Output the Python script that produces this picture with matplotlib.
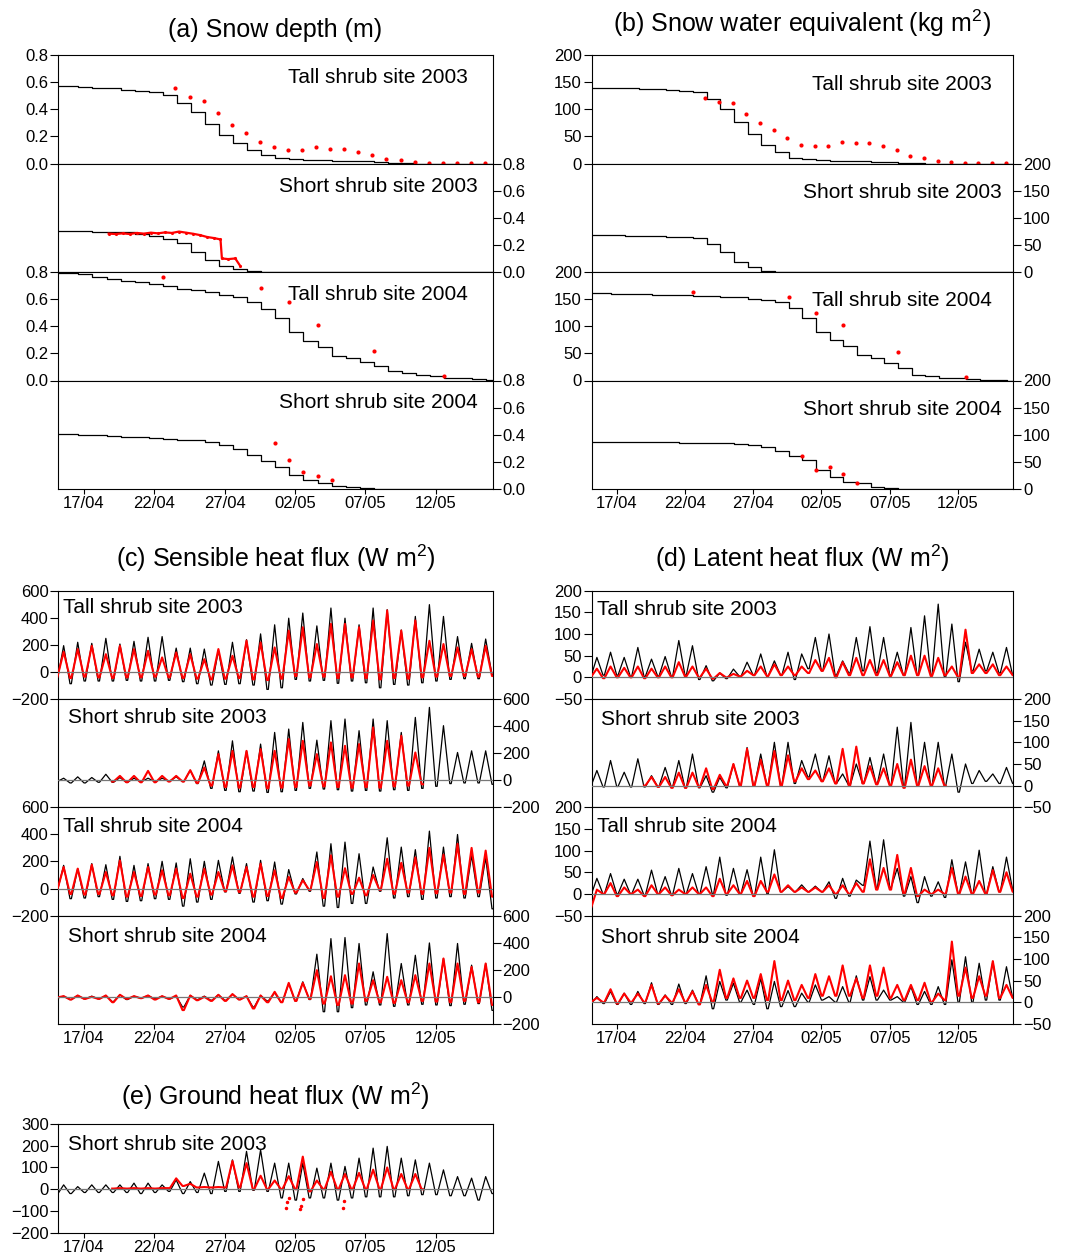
import numpy as np
import matplotlib.pyplot as plt

plt.rcParams['font.family'] = ['Liberation Sans', 'DejaVu Sans']
plt.rcParams['mathtext.fontset'] = 'custom'
plt.rcParams['mathtext.rm'] = 'Liberation Sans'
plt.rcParams['mathtext.it'] = 'Liberation Sans:italic'

# days since 15 April 00:00
DAYS = np.arange(31)
tick_days = [2, 7, 12, 17, 22, 27]
tick_labels = ['17/04', '22/04', '27/04', '02/05', '07/05', '12/05']

# ---------------- snow: model (value after the daily melt step) ----------------
depth_tall03_mod = [0.572, 0.565, 0.56, 0.553, 0.545, 0.537, 0.528, 0.505, 0.443, 0.377, 0.29, 0.209, 0.153, 0.098, 0.06,
                    0.044, 0.032, 0.028, 0.025, 0.022, 0.02, 0.015, 0.01, 0.006, 0.002, 0, 0, 0, 0, 0, 0]
depth_short03_mod = [0.30, 0.30, 0.298, 0.296, 0.292, 0.28, 0.265, 0.245, 0.215, 0.15, 0.09, 0.045, 0.022, 0.008, 0.002,
                     0, 0, 0, 0, 0, 0, 0, 0, 0, 0, 0, 0, 0, 0, 0, 0]
depth_tall04_mod = [0.795, 0.785, 0.765, 0.75, 0.735, 0.725, 0.71, 0.695, 0.677, 0.67, 0.65, 0.63, 0.615, 0.58, 0.53,
                    0.46, 0.355, 0.29, 0.25, 0.18, 0.165, 0.14, 0.11, 0.07, 0.055, 0.042, 0.03, 0.022, 0.015, 0.01, 0.005]
depth_short04_mod = [0.403, 0.40, 0.396, 0.39, 0.386, 0.382, 0.377, 0.372, 0.364, 0.358, 0.35, 0.325, 0.293, 0.25, 0.21,
                     0.16, 0.105, 0.07, 0.047, 0.025, 0.012, 0.006, 0.003, 0.001, 0, 0, 0, 0, 0, 0, 0]

swe_tall03_mod = [140, 139, 138.5, 137.5, 136.5, 135.5, 134, 131, 119, 100, 77, 54, 35, 22, 10.5,
                  7.4, 6.5, 5.5, 5, 4, 3, 2, 1, 0.5, 0, 0, 0, 0, 0, 0, 0]
swe_short03_mod = [68, 67.5, 67, 66.5, 66, 65, 64, 62, 52, 36, 18.5, 9, 2, 0.5, 0,
                   0, 0, 0, 0, 0, 0, 0, 0, 0, 0, 0, 0, 0, 0, 0, 0]
swe_tall04_mod = [160.5, 160, 159.5, 159, 158.5, 158, 157, 156.5, 155.5, 154.5, 153, 151, 148, 144, 134,
                  116, 90, 75, 64, 47, 41, 32, 23, 11, 7.5, 5.5, 4, 2.5, 1, 0.5, 0]
swe_short04_mod = [87.3, 87, 86.7, 86.3, 86, 85.8, 85.5, 85, 84.5, 84, 83.5, 82, 78, 70, 60,
                   53.5, 35, 23, 13.5, 10.5, 4.3, 1.2, 0.3, 0, 0, 0, 0, 0, 0, 0, 0]

# ---------------- snow: observations ----------------
obs_days_tall03 = np.arange(8.5, 31, 1.0)
depth_tall03_obs = [0.56, 0.49, 0.463, 0.369, 0.283, 0.222, 0.162, 0.118, 0.10, 0.10, 0.118, 0.108, 0.108, 0.086,
                    0.066, 0.032, 0.027, 0.01, 0.005, 0.004, 0.004, 0.004, 0.004]
swe_tall03_obs = [121, 113, 111, 92, 74, 61, 47, 35, 32, 33, 39, 37, 37.5, 32, 25, 13, 11, 4, 2, 1, 0.5, 1, 0.5]

obs_t_short03 = [3.75, 4.25, 4.75, 5.25, 5.75, 6.25, 6.75, 7.25, 7.75, 8.25, 8.75, 9.25, 9.75, 10.25, 10.75, 11.25,
                 11.7, 11.8, 12.25, 12.75, 13.1]
depth_short03_obs = [0.283, 0.28, 0.285, 0.28, 0.288, 0.283, 0.29, 0.285, 0.292, 0.288, 0.298, 0.29, 0.282, 0.272,
                     0.258, 0.25, 0.24, 0.10, 0.095, 0.10, 0.045]

obs_days_tall04 = [7.6, 14.6, 16.6, 18.6, 22.6, 27.6]
depth_tall04_obs = [0.763, 0.68, 0.58, 0.41, 0.22, 0.03]
swe_tall04_obs = [163, 153, 125, 101.5, 53, 6]

obs_days_short04 = [15.6, 16.6, 17.6, 18.6, 19.6]
depth_short04_obs = [0.342, 0.212, 0.128, 0.098, 0.064]
swe_short04_obs = [61.5, 34.5, 40, 28.3, 11.7]

# ---------------- fluxes: daily peak (midday) and night minimum ----------------
sens_tall03_mod_pk = [194, 219, 211, 248, 206, 226, 256, 261, 176, 176, 169, 159, 219, 238, 281, 348, 397, 435, 340, 472,
                      397, 348, 472, 460, 310, 410, 497, 410, 261, 211, 243]
sens_tall03_mod_tr = [-60, -87, -67, -67, -67, -62, -67, -67, -62, -72, -87, -97, -92, -87, -97, -129, -117, -55, -67,
                      -62, -84, -67, -80, -117, -92, -97, -80, -67, -55, -50, -50, -20]
sens_tall03_obs_pk = [149, 169, 193, 131, 193, 169, 156, 107, 144, 131, 94, 169, 119, 231, 218, 181, 305, 330, 206, 355,
                      355, 330, 380, 454, 305, 380, 230, 206, 181, 169, 193]
sens_tall03_obs_tr = [-40, -45, -35, -40, -45, -40, -40, -35, -40, -45, -50, -55, -50, -45, -55, -60, -50, -30, -40,
                      -35, -45, -40, -45, -55, -45, -50, -40, -35, -30, -30, -35, -30]

sens_short03_mod_pk = [15, 25, 20, 44, 20, 15, 15, 15, 25, 74, 143, 217, 291, 217, 267, 353, 378, 427, 296, 440,
                       452, 366, 452, 440, 353, 464, 538, 403, 205, 217, 217]
sens_short03_mod_tr = [-10, -20, -20, -15, -15, -15, -10, -10, -5, -10, -25, -60, -75, -85, -80, -90, -85, -75, -60,
                       -65, -70, -80, -75, -80, -70, -75, -60, -45, -25, -20, -20, -30]
sens_short03_obs_pk = [32, 32, 69, 32, 32, 74, 94, 193, 217, 217, 230, 217, 304, 291, 193, 279, 254, 267, 390, 291,
                       328, 205]
sens_short03_obs_tr = [-10, -15, -15, -15, -10, -10, -20, -40, -50, -55, -50, -60, -55, -50, -40, -45, -50, -55, -50,
                       -55, -45, -40, -30]

sens_tall04_mod_pk = [171, 147, 184, 176, 238, 171, 184, 201, 189, 220, 201, 208, 233, 184, 208, 196, 140, 74, 270,
                      331, 343, 257, 159, 375, 306, 287, 424, 306, 399, 245, 228]
sens_tall04_mod_tr = [-20, -75, -70, -60, -80, -95, -90, -75, -80, -130, -100, -80, -25, -35, -100, -90, -115, -40,
                      -20, -130, -140, -110, -110, -20, -70, -60, -80, -70, -60, -70, -60, -150]
sens_tall04_obs_pk = [159, 147, 176, 122, 208, 122, 159, 135, 147, 110, 147, 122, 171, 159, 184, 135, 86, 61, 196,
                      245, 150, 80, 100, 220, 190, 230, 300, 250, 330, 300, 280]
sens_tall04_obs_tr = [-10, -40, -45, -40, -50, -60, -55, -45, -50, -70, -60, -45, -20, -25, -60, -55, -70, -30, -10,
                      -70, -60, -40, -50, -10, -40, -30, -40, -35, -30, -40, -30, -60]

sens_short04_mod_pk = [5, 10, 5, 10, 15, 5, 10, 5, 5, 10, 5, 15, 20, 5, 10, 30, 98, 111, 315, 430, 438, 394, 185,
                       467, 246, 307, 398, 283, 394, 234, 246]
sens_short04_mod_tr = [-10, -20, -15, -15, -35, -20, -10, -15, -15, -75, -20, -25, -25, -20, -75, -30, -40, -30, -20,
                       -110, -110, -80, -60, -60, -70, -60, -55, -60, -65, -55, -50, -100]
sens_short04_obs_pk = [5, 10, 0, 10, 15, 5, 10, 5, 10, 10, 0, 15, 20, 5, 10, 37, 103, 103, 197, 152, 160, 246, 123,
                       148, 123, 160, 246, 283, 246, 221, 246]
sens_short04_obs_tr = [-5, -20, -15, -15, -40, -15, -10, -20, -15, -98, -25, -30, -30, -20, -86, -40, -40, -30, -15,
                       -50, -60, -50, -30, -40, -45, -40, -30, -35, -40, -30, -40, -60]

lat_tall03_mod_pk = [46, 58, 46, 69, 42, 48, 85, 73, 27, 10, 19, 35, 54, 38, 58, 54, 92, 100, 38, 92, 117, 92, 58,
                     115, 142, 169, 123, 81, 65, 58, 69]
lat_tall03_mod_tr = [0, 5, 5, 2, 2, 3, 2, 5, -5, -8, -3, 2, 5, 3, 5, -5, 20, 15, 5, 10, 15, 10, 5, 5, 5, 5, 0, -10,
                     15, 15, 10, 5]
lat_tall03_obs_pk = [20, 25, 22, 25, 20, 25, 35, 25, 20, 10, 8, 15, 25, 30, 25, 25, 40, 45, 35, 45, 40, 40, 35, 50,
                     50, 45, 25, 110, 30, 30, 25]
lat_tall03_obs_tr = [0, -2, 0, 0, -2, 0, 0, 2, 0, -3, 0, 2, 5, 3, 5, 5, 10, 15, 0, 5, 5, 5, 3, 5, 5, 3, 5, 0, 10, 10,
                     5, 5]

lat_short03_mod_pk = [35, 58, 31, 62, 23, 42, 58, 73, 23, 19, 50, 88, 73, 100, 100, 58, 73, 69, 27, 50, 65, 73, 135,
                      146, 100, 100, 73, 50, 35, 27, 42]
lat_short03_mod_tr = [-3, -3, -2, -3, -3, -2, -3, -5, -5, -15, -5, 0, 0, 0, 0, 5, 20, 10, 5, 0, 5, 5, 0, 0, 0, 0, 0,
                      -15, 5, 10, 5, 5]
lat_short03_obs_pk = [20, 20, 30, 30, 40, 25, 50, 85, 60, 80, 70, 40, 35, 40, 85, 90, 45, 40, 50, 60, 45, 40]
lat_short03_obs_tr = [0, -3, -5, -5, -3, -8, 0, 0, 0, 0, 0, 10, 15, 10, 5, 0, 5, 3, 0, -5, 0, 0, 0]

lat_tall04_mod_pk = [36, 47, 34, 34, 55, 40, 59, 47, 63, 85, 59, 56, 85, 102, 17, 21, 18, 28, 36, 32, 122, 125, 59,
                     40, 40, 28, 79, 74, 101, 63, 85]
lat_tall04_mod_tr = [-5, 0, 0, 0, -3, 0, -2, 0, 0, 0, -3, 0, -5, 0, 5, 5, 5, 5, -10, -5, 20, 15, 15, -5, -20, -5, -8,
                     0, 0, 0, 5, 10]
lat_tall04_obs_pk = [10, 25, 15, 10, 20, 15, 10, 15, 15, 35, 20, 30, 30, 45, 20, 15, 15, 20, 20, 25, 80, 60, 90, 60,
                     10, 10, 60, 40, 30, 55, 50]
lat_tall04_obs_tr = [-35, 0, -5, 0, -5, 0, -3, 0, 0, -5, 0, 0, -5, 5, 5, 5, 5, 5, 0, 0, 5, 10, 10, 0, -5, 0, 0, 0, 0,
                     0, 5, 5]

lat_short04_mod_pk = [13, 25, 21, 25, 45, 17, 42, 28, 61, 48, 44, 28, 55, 48, 27, 21, 40, 13, 36, 61, 59, 28, 13, 36,
                      25, 36, 98, 105, 90, 94, 82]
lat_short04_mod_tr = [-5, -3, -5, -5, -3, -5, -5, -3, -5, -15, 5, 0, -5, -15, -10, -10, 0, 5, 0, 0, 5, 5, 5, 0, -5,
                      -5, -5, 0, 0, 5, 5, 10]
lat_short04_obs_pk = [10, 30, 20, 20, 40, 15, 30, 25, 40, 75, 55, 50, 65, 95, 50, 40, 65, 60, 85, 55, 85, 80, 40, 40,
                      45, 20, 140, 80, 60, 95, 40]
lat_short04_obs_tr = [0, 0, -3, 0, 0, -3, 0, 0, -5, 0, 10, 10, 10, 5, 5, 5, 10, 15, 15, 15, 10, 15, 10, 5, 5, 0, 5,
                      15, 10, 15, 10, 10]

ground_mod_pk = [20, 12, 20, 20, 20, 28, 28, 20, 43, 35, 74, 128, 135, 174, 181, 120, 120, 120, 97, 120, 105, 143,
                 189, 197, 143, 135, 120, 89, 58, 51, 58]
ground_mod_tr = [-25, -20, -15, -15, -15, -15, -20, -15, -10, -20, -15, -20, -10, -10, -5, -10, -40, -50, -40, -40,
                 -50, -40, -35, -35, -35, -30, -25, -25, -30, -30, -50, -20]
ground_obs_pk = [5, 5, 5, 5, 50, 25, 10, 10, 130, 120, 62, 40, 60, 150, 40, 80, 70, 75, 90, 100, 70, 70]
ground_obs_tr = [3, 3, 3, 3, 5, 15, 8, 8, 8, 8, 0, 0, 0, 0, -10, 0, 0, 0, 0, 0, 0, 0, 0]
ground_obs_out_t = [16.35, 16.45, 16.55, 17.35, 17.45, 17.55, 20.4, 20.5]
ground_obs_out_v = [-88, -60, -40, -90, -75, -45, -85, -55]

# ---------------------------------------------------------------------------
W, H = 1068, 1253
fig = plt.figure(figsize=(W / 100, H / 100), dpi=100)

LEFT = (58.3, 492.7)
RIGHT = (591.7, 1013.3)
ROWS_TOP = [55, 163.5, 272, 380.5, 489]
ROWS_MID = [590.7, 699, 807.3, 915.6, 1023.9]


def add_ax(col, top, bottom):
    return fig.add_axes([col[0] / W, 1 - bottom / H, (col[1] - col[0]) / W, (bottom - top) / H])


def style(ax, ylim, yticks, right=False, xlabels=False):
    ax.set_xlim(0.17, 31.05)
    ax.set_ylim(ylim)
    ax.set_yticks(yticks)
    ax.set_xticks(tick_days)
    if xlabels:
        ax.set_xticklabels(tick_labels)
    else:
        ax.set_xticklabels([])
    ax.tick_params(axis='x', direction='out', length=3.8, width=0.8, labelsize=12, pad=1.5)
    ax.tick_params(axis='y', direction='out', length=5.5, width=0.8, labelsize=12, pad=1.5)
    if right:
        ax.yaxis.tick_right()
    for s in ax.spines.values():
        s.set_linewidth(0.8)


def stairs(ax, vals):
    t = np.concatenate([[-0.5], DAYS + 0.6, [31.5]])
    v = np.concatenate([[vals[0]], vals, [vals[-1]]])
    ax.plot(t, v, drawstyle='steps-post', color='black', lw=0.9)


def diurnal(start, peaks, troughs):
    # night minimum held briefly, midday peak
    t, v = [], []
    for i, p in enumerate(peaks):
        d = start + i
        t += [d, d + 0.1, d + 0.55]
        v += [troughs[i], troughs[i], p]
    n = start + len(peaks)
    t += [n, n + 0.1]
    v += [troughs[-1], troughs[-1]]
    return t, v


def label(ax, text, x, dy, ha='left'):
    h = ax.get_position().height * H
    ax.text(x, 1 - dy / h, text, transform=ax.transAxes, ha=ha, va='top', fontsize=15)


# ---------------- (a) snow depth ----------------
depth_sets = [
    (depth_tall03_mod, obs_days_tall03, depth_tall03_obs, 'Tall shrub site 2003'),
    (depth_short03_mod, obs_t_short03, depth_short03_obs, 'Short shrub site 2003'),
    (depth_tall04_mod, obs_days_tall04, depth_tall04_obs, 'Tall shrub site 2004'),
    (depth_short04_mod, obs_days_short04, depth_short04_obs, 'Short shrub site 2004'),
]
for i, (mod, ot, ov, name) in enumerate(depth_sets):
    ax = add_ax(LEFT, ROWS_TOP[i], ROWS_TOP[i + 1])
    stairs(ax, mod)
    if i == 1:
        ax.plot(ot, ov, color='red', lw=1.6, marker='.', ms=2.5)
    else:
        ax.plot(ot, ov, 'o', color='red', ms=3, mec='none')
    style(ax, (0, 0.8), [0, 0.2, 0.4, 0.6, 0.8], right=(i % 2 == 1), xlabels=(i == 3))
    ax.yaxis.set_major_formatter(plt.FormatStrFormatter('%.1f'))
    label(ax, name, 0.736, 13, ha='center')

# ---------------- (b) snow water equivalent ----------------
swe_sets = [
    (swe_tall03_mod, obs_days_tall03, swe_tall03_obs, 'Tall shrub site 2003'),
    (swe_short03_mod, None, None, 'Short shrub site 2003'),
    (swe_tall04_mod, obs_days_tall04, swe_tall04_obs, 'Tall shrub site 2004'),
    (swe_short04_mod, obs_days_short04, swe_short04_obs, 'Short shrub site 2004'),
]
for i, (mod, ot, ov, name) in enumerate(swe_sets):
    ax = add_ax(RIGHT, ROWS_TOP[i], ROWS_TOP[i + 1])
    stairs(ax, mod)
    if ot is not None:
        ax.plot(ot, ov, 'o', color='red', ms=3, mec='none')
    style(ax, (0, 200), [0, 50, 100, 150, 200], right=(i % 2 == 1), xlabels=(i == 3))
    label(ax, name, 0.736, 19.5, ha='center')

# ---------------- (c) sensible and (d) latent heat flux ----------------
sens_sets = [
    (sens_tall03_mod_pk, sens_tall03_mod_tr, 0, sens_tall03_obs_pk, sens_tall03_obs_tr, 'Tall shrub site 2003', 0.011, 7.3),
    (sens_short03_mod_pk, sens_short03_mod_tr, 4, sens_short03_obs_pk, sens_short03_obs_tr, 'Short shrub site 2003', 0.022, 9),
    (sens_tall04_mod_pk, sens_tall04_mod_tr, 0, sens_tall04_obs_pk, sens_tall04_obs_tr, 'Tall shrub site 2004', 0.011, 9.4),
    (sens_short04_mod_pk, sens_short04_mod_tr, 0, sens_short04_obs_pk, sens_short04_obs_tr, 'Short shrub site 2004', 0.022, 11),
]
lat_sets = [
    (lat_tall03_mod_pk, lat_tall03_mod_tr, 0, lat_tall03_obs_pk, lat_tall03_obs_tr, 'Tall shrub site 2003', 0.012, 9.3),
    (lat_short03_mod_pk, lat_short03_mod_tr, 4, lat_short03_obs_pk, lat_short03_obs_tr, 'Short shrub site 2003', 0.021, 11),
    (lat_tall04_mod_pk, lat_tall04_mod_tr, 0, lat_tall04_obs_pk, lat_tall04_obs_tr, 'Tall shrub site 2004', 0.012, 9.4),
    (lat_short04_mod_pk, lat_short04_mod_tr, 0, lat_short04_obs_pk, lat_short04_obs_tr, 'Short shrub site 2004', 0.021, 12.7),
]


def flux_panel(ax, mpk, mtr, ostart, opk, otr):
    tm, vm = diurnal(0, mpk, mtr)
    to, vo = diurnal(ostart, opk, otr)
    ax.plot(tm, vm, color='black', lw=0.9, zorder=2)
    ax.plot(to, vo, color='red', lw=1.5, zorder=3)
    ax.axhline(0, color='#777777', lw=0.9, zorder=4)


for i, (mpk, mtr, os_, opk, otr, name, lx, dy) in enumerate(sens_sets):
    ax = add_ax(LEFT, ROWS_MID[i], ROWS_MID[i + 1])
    flux_panel(ax, mpk, mtr, os_, opk, otr)
    style(ax, (-200, 600), [-200, 0, 200, 400, 600], right=(i % 2 == 1), xlabels=(i == 3))
    label(ax, name, lx, dy)

for i, (mpk, mtr, os_, opk, otr, name, lx, dy) in enumerate(lat_sets):
    ax = add_ax(RIGHT, ROWS_MID[i], ROWS_MID[i + 1])
    flux_panel(ax, mpk, mtr, os_, opk, otr)
    style(ax, (-50, 200), [-50, 0, 50, 100, 150, 200], right=(i % 2 == 1), xlabels=(i == 3))
    label(ax, name, lx, dy)

# ---------------- (e) ground heat flux ----------------
ax = add_ax(LEFT, 1124, 1232.7)
flux_panel(ax, ground_mod_pk, ground_mod_tr, 4, ground_obs_pk, ground_obs_tr)
ax.plot(ground_obs_out_t, ground_obs_out_v, '.', color='red', ms=3)
style(ax, (-200, 300), [-200, -100, 0, 100, 200, 300], xlabels=True)
label(ax, 'Short shrub site 2003', 0.023, 11)

# ---------------- titles ----------------
titles = [
    ('(a) Snow depth (m)', LEFT, 37.3),
    ('(b) Snow water equivalent (kg m$^2$)', RIGHT, 31.7),
    ('(c) Sensible heat flux (W m$^2$)', LEFT, 566.7),
    ('(d) Latent heat flux (W m$^2$)', RIGHT, 566.7),
    ('(e) Ground heat flux (W m$^2$)', LEFT, 1105),
]
for text, col, base in titles:
    fig.text((col[0] + col[1]) / 2 / W, 1 - base / H, text, ha='center', va='baseline', fontsize=18)

fig.savefig('out.png', dpi=100)
